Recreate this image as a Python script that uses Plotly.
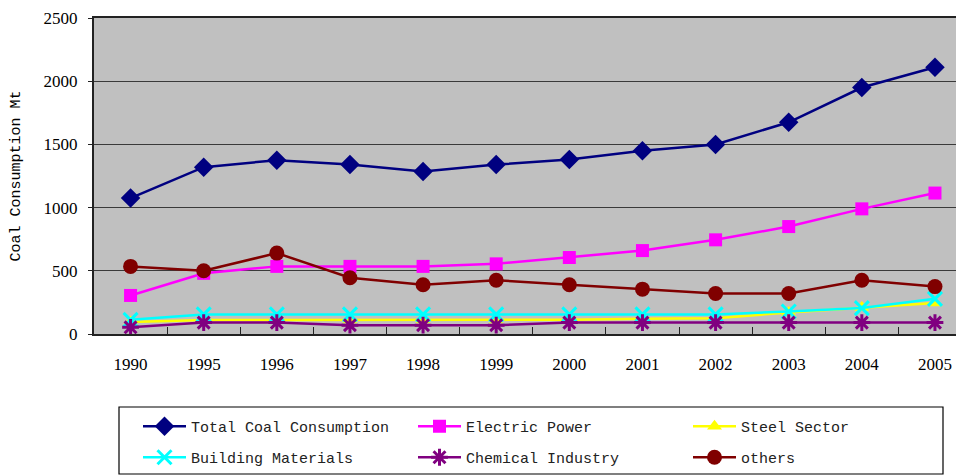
import plotly.graph_objects as go

# Coal consumption by sector (Mt)
years = ["1990", "1995", "1996", "1997", "1998", "1999",
         "2000", "2001", "2002", "2003", "2004", "2005"]

total_coal = [1075, 1320, 1375, 1340, 1285, 1340, 1380, 1450, 1500, 1675, 1950, 2110]
electric_power = [305, 480, 535, 535, 535, 555, 605, 660, 745, 850, 990, 1115]
steel_sector = [95, 110, 110, 110, 110, 110, 113, 120, 125, 170, 210, 245]
building_materials = [112, 155, 155, 155, 155, 155, 155, 155, 155, 178, 205, 278]
chemical_industry = [53, 90, 90, 70, 70, 70, 90, 90, 90, 90, 90, 90]
others = [535, 500, 640, 445, 390, 425, 390, 355, 320, 320, 425, 375]

mono = "Liberation Mono, Courier New, monospace"
serif = "Liberation Serif, Times New Roman, serif"

# name, values, colour, symbol, size, marker line width, legend row
series = [
    ("Total Coal Consumption", total_coal, "#000080", "diamond", 15, 0, "legend"),
    ("Electric Power", electric_power, "#FF00FF", "square", 13, 0, "legend"),
    ("Steel Sector", steel_sector, "#FFFF00", "triangle-up", 13, 0, "legend"),
    ("Building Materials", building_materials, "#00FFFF", "x-thin", 14, 3, "legend2"),
    ("Chemical Industry", chemical_industry, "#800080", "asterisk", 14, 3, "legend2"),
    ("others", others, "#800000", "circle", 15, 0, "legend2"),
]

# page has an 8px body margin, so the figure is drawn 8px smaller
W, H = 956, 467
ml, mt, plot_h = 86, 10, 316

fig = go.Figure()
for name, vals, col, sym, size, mlw, leg in series:
    fig.add_trace(go.Scatter(
        x=years, y=vals, name=name, mode="lines+markers", legend=leg,
        line=dict(color=col, width=2.5),
        marker=dict(symbol=sym, size=size, color=col,
                    line=dict(color=col, width=mlw)),
    ))

legend_style = dict(
    orientation="h",
    xref="container", yref="container",
    x=130 / W, xanchor="left", yanchor="top",
    borderwidth=0, bgcolor="rgba(0,0,0,0)",
    font=dict(family=mono, size=15, color="#222"),
    entrywidth=217, itemwidth=43,
)

fig.update_layout(
    width=W, height=H,
    margin=dict(l=ml, r=0, t=mt, b=H - mt - plot_h),
    paper_bgcolor="white",
    plot_bgcolor="#C0C0C0",
    font=dict(family=serif, size=17, color="black"),
    legend=dict(legend_style, y=1 - 402 / H),
    legend2=dict(legend_style, y=1 - 433 / H),
)

# legend frame
pw = W - ml
fig.add_shape(
    type="rect", xref="paper", yref="paper",
    x0=(111 - ml) / pw, x1=(935 - ml) / pw,
    y0=1 - (399 - mt) / plot_h, y1=1 - (466 - mt) / plot_h,
    line=dict(color="black", width=1.2), fillcolor="rgba(0,0,0,0)",
)

fig.update_xaxes(
    type="category",
    range=[-0.5, 11.397],
    automargin=False,
    showgrid=False,
    showline=True, linecolor="#222", linewidth=2, mirror=True,
    ticks="inside", tickson="boundaries", ticklen=7, tickcolor="#222",
    ticklabelstandoff=14,
    tickfont=dict(family=serif, size=17),
)

fig.update_yaxes(
    range=[0, 2500], dtick=500,
    automargin=False,
    showgrid=True, gridcolor="#3a3a3a", gridwidth=1,
    showline=True, linecolor="#222", linewidth=2,
    ticks="outside", ticklen=4, tickcolor="#222",
    ticklabelstandoff=7, ticklabeloverflow="allow",
    zeroline=False,
    tickfont=dict(family=serif, size=17),
    title=dict(text="Coal Consumption Mt", font=dict(family=mono, size=15), standoff=24),
)

fig.write_html("out.html")
